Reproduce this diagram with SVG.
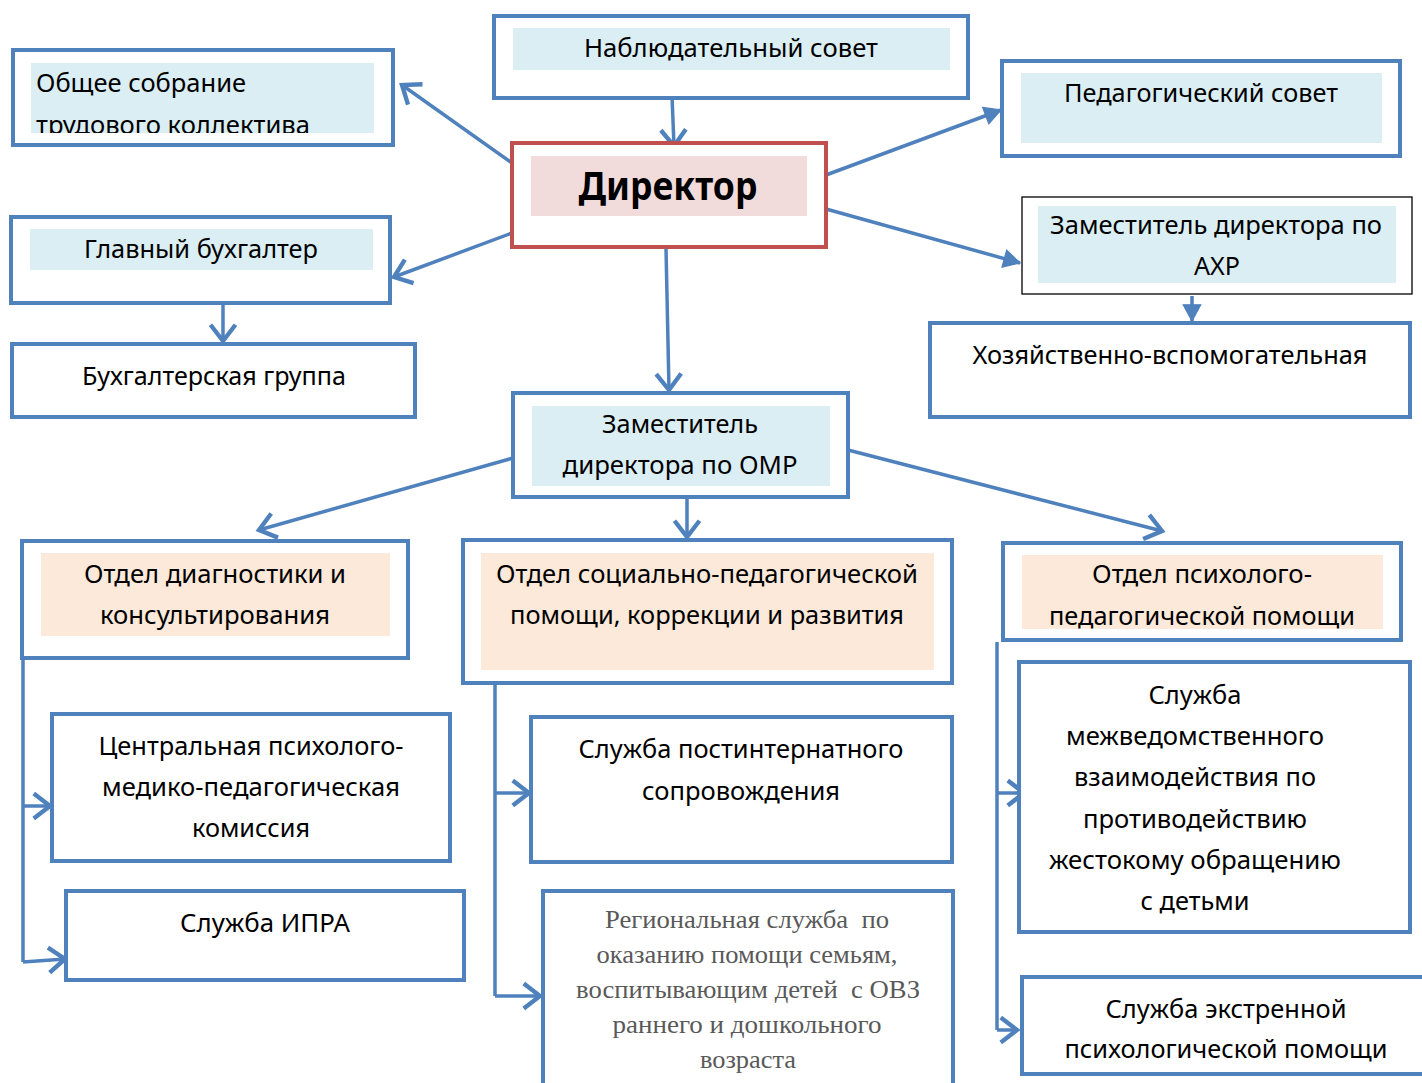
<svg xmlns="http://www.w3.org/2000/svg" width="1422" height="1083" viewBox="0 0 1422 1083">
<style>
.box{fill:#fff;stroke:#4F81BD;stroke-width:4}
.thin{fill:#fff;stroke:#000;stroke-width:1.3}
.red{fill:#fff;stroke:#C0504D;stroke-width:4}
.blue{fill:#DBEEF3}
.peach{fill:#FDE9D9}
.pink{fill:#F2DCDB}
text{font-family:"Noto Sans","Open Sans","DejaVu Sans",sans-serif;font-size:25px;fill:#000}
.c{text-anchor:middle}
.bold{font-weight:bold;font-size:40px}
.serif{font-family:"Liberation Serif","Times New Roman",serif;font-size:25px;fill:#595959}
.ln{fill:none;stroke:#4F81BD;stroke-width:3.5}
</style>
<defs>
<marker id="v" markerUnits="userSpaceOnUse" markerWidth="30" markerHeight="30" viewBox="-16 -12 20 24" refX="0" refY="0" orient="auto">
<path d="M-13,-10 L0,0 L-13,10" fill="none" stroke="#4F81BD" stroke-width="3.5"/>
</marker>
<marker id="t" markerUnits="userSpaceOnUse" markerWidth="30" markerHeight="30" viewBox="-16 -12 20 24" refX="0" refY="0" orient="auto">
<path d="M-13,-7 L0,0 L-13,7 Z" fill="#4F81BD" stroke="#4F81BD" stroke-width="1"/>
</marker>
<clipPath id="clip1"><rect x="31" y="63" width="343" height="70"/></clipPath>
</defs>

<g id="connectors">
<line class="ln" x1="672" y1="96" x2="674" y2="146" marker-end="url(#v)"/>
<line class="ln" x1="512" y1="163" x2="402" y2="85" marker-end="url(#v)"/>
<line class="ln" x1="512" y1="233" x2="394" y2="277" marker-end="url(#v)"/>
<line class="ln" x1="826" y1="175" x2="1001" y2="110" marker-end="url(#t)"/>
<line class="ln" x1="826" y1="209" x2="1020" y2="263" marker-end="url(#t)"/>
<line class="ln" x1="1192" y1="296" x2="1192" y2="321" marker-end="url(#t)"/>
<line class="ln" x1="223" y1="304" x2="223" y2="341" marker-end="url(#v)"/>
<line class="ln" x1="666" y1="248" x2="669" y2="390" marker-end="url(#v)"/>
<line class="ln" x1="513" y1="458" x2="259" y2="530" marker-end="url(#v)"/>
<line class="ln" x1="687" y1="498" x2="687" y2="537" marker-end="url(#v)"/>
<line class="ln" x1="848" y1="450" x2="1162" y2="531" marker-end="url(#v)"/>
<polyline class="ln" points="23,658 23,962"/>
<line class="ln" x1="23" y1="806" x2="50" y2="806" marker-end="url(#v)"/>
<line class="ln" x1="23" y1="962" x2="65" y2="959" marker-end="url(#v)"/>
<polyline class="ln" points="495,683 495,996"/>
<line class="ln" x1="495" y1="793" x2="529" y2="793" marker-end="url(#v)"/>
<line class="ln" x1="495" y1="996" x2="540" y2="996" marker-end="url(#v)"/>
<polyline class="ln" points="997,642 997,1030"/>
<line class="ln" x1="997" y1="793" x2="1024" y2="793" marker-end="url(#v)"/>
<line class="ln" x1="997" y1="1030" x2="1017" y2="1030" marker-end="url(#v)"/>
</g>

<g id="obshchee">
<rect class="box" x="13" y="50" width="380" height="95"/>
<rect class="blue" x="31" y="63" width="343" height="70"/>
<text x="36" y="92" textLength="210" lengthAdjust="spacingAndGlyphs">Общее собрание</text>
<text x="36" y="134" textLength="274" lengthAdjust="spacingAndGlyphs" clip-path="url(#clip1)">трудового коллектива</text>
</g>

<g id="nablyud">
<rect class="box" x="494" y="16" width="474" height="82"/>
<rect class="blue" x="513" y="28" width="437" height="42"/>
<text class="c" x="731" y="57" textLength="294" lengthAdjust="spacingAndGlyphs">Наблюдательный совет</text>
</g>

<g id="director">
<rect class="red" x="512" y="143" width="314" height="104"/>
<rect class="pink" x="531" y="156" width="276" height="60"/>
<text class="c bold" x="668" y="200" textLength="179" lengthAdjust="spacingAndGlyphs">Директор</text>
</g>

<g id="pedsovet">
<rect class="box" x="1002" y="61" width="398" height="95"/>
<rect class="blue" x="1021" y="73" width="361" height="70"/>
<text class="c" x="1201" y="102" textLength="274" lengthAdjust="spacingAndGlyphs">Педагогический совет</text>
</g>

<g id="zam-ahr">
<rect class="thin" x="1022" y="197" width="390" height="97"/>
<rect class="blue" x="1038" y="206" width="358" height="77"/>
<text class="c" x="1216" y="234" textLength="332" lengthAdjust="spacingAndGlyphs">Заместитель директора по</text>
<text class="c" x="1217" y="275" textLength="46" lengthAdjust="spacingAndGlyphs">АХР</text>
</g>

<g id="hoz">
<rect class="box" x="930" y="323" width="480" height="94"/>
<text class="c" x="1170" y="364" textLength="395" lengthAdjust="spacingAndGlyphs">Хозяйственно-вспомогательная</text>
</g>

<g id="glavbuh">
<rect class="box" x="11" y="217" width="379" height="86"/>
<rect class="blue" x="30" y="229" width="343" height="41"/>
<text class="c" x="201" y="258" textLength="234" lengthAdjust="spacingAndGlyphs">Главный бухгалтер</text>
</g>

<g id="buhgruppa">
<rect class="box" x="12" y="344" width="403" height="73"/>
<text class="c" x="214" y="385" textLength="264" lengthAdjust="spacingAndGlyphs">Бухгалтерская группа</text>
</g>

<g id="zam-omr">
<rect class="box" x="513" y="393" width="335" height="104"/>
<rect class="blue" x="532" y="406" width="298" height="80"/>
<text class="c" x="680" y="433" textLength="156" lengthAdjust="spacingAndGlyphs">Заместитель</text>
<text class="c" x="680" y="474" textLength="235" lengthAdjust="spacingAndGlyphs">директора по ОМР</text>
</g>

<g id="otdel-diag">
<rect class="box" x="22" y="541" width="386" height="117"/>
<rect class="peach" x="41" y="553" width="349" height="83"/>
<text class="c" x="215" y="583" textLength="262" lengthAdjust="spacingAndGlyphs">Отдел диагностики и</text>
<text class="c" x="215" y="624" textLength="230" lengthAdjust="spacingAndGlyphs">консультирования</text>
</g>

<g id="otdel-soc">
<rect class="box" x="463" y="540" width="489" height="143"/>
<rect class="peach" x="481" y="553" width="453" height="117"/>
<text class="c" x="707" y="583" textLength="422" lengthAdjust="spacingAndGlyphs">Отдел социально-педагогической</text>
<text class="c" x="707" y="624" textLength="394" lengthAdjust="spacingAndGlyphs">помощи, коррекции и развития</text>
</g>

<g id="otdel-psih">
<rect class="box" x="1003" y="543" width="398" height="97"/>
<rect class="peach" x="1022" y="555" width="361" height="74"/>
<text class="c" x="1202" y="583" textLength="220" lengthAdjust="spacingAndGlyphs">Отдел психолого-</text>
<text class="c" x="1202" y="625" textLength="306" lengthAdjust="spacingAndGlyphs">педагогической помощи</text>
</g>

<g id="cpmpk">
<rect class="box" x="52" y="714" width="398" height="147"/>
<text class="c" x="251" y="755" textLength="305" lengthAdjust="spacingAndGlyphs">Центральная психолого-</text>
<text class="c" x="251" y="796" textLength="298" lengthAdjust="spacingAndGlyphs">медико-педагогическая</text>
<text class="c" x="251" y="837" textLength="118" lengthAdjust="spacingAndGlyphs">комиссия</text>
</g>

<g id="ipra">
<rect class="box" x="66" y="891" width="398" height="89"/>
<text class="c" x="265" y="932" textLength="170" lengthAdjust="spacingAndGlyphs">Служба ИПРА</text>
</g>

<g id="postinternat">
<rect class="box" x="531" y="717" width="421" height="145"/>
<text class="c" x="741" y="758" textLength="325" lengthAdjust="spacingAndGlyphs">Служба постинтернатного</text>
<text class="c" x="741" y="800" textLength="198" lengthAdjust="spacingAndGlyphs">сопровождения</text>
</g>

<g id="regional">
<rect class="box" x="543" y="891" width="410" height="200"/>
<text class="c serif" x="747" y="928" textLength="284" lengthAdjust="spacingAndGlyphs" xml:space="preserve">Региональная служба  по</text>
<text class="c serif" x="747" y="963" textLength="301" lengthAdjust="spacingAndGlyphs">оказанию помощи семьям,</text>
<text class="c serif" x="748" y="998" textLength="344" lengthAdjust="spacingAndGlyphs" xml:space="preserve">воспитывающим детей  с ОВЗ</text>
<text class="c serif" x="747" y="1033" textLength="269" lengthAdjust="spacingAndGlyphs">раннего и дошкольного</text>
<text class="c serif" x="748" y="1068" textLength="96" lengthAdjust="spacingAndGlyphs">возраста</text>
</g>

<g id="mezhved">
<rect class="box" x="1019" y="662" width="391" height="270"/>
<text class="c" x="1195" y="704" textLength="93" lengthAdjust="spacingAndGlyphs">Служба</text>
<text class="c" x="1195" y="745" textLength="258" lengthAdjust="spacingAndGlyphs">межведомственного</text>
<text class="c" x="1195" y="786" textLength="242" lengthAdjust="spacingAndGlyphs">взаимодействия по</text>
<text class="c" x="1195" y="828" textLength="224" lengthAdjust="spacingAndGlyphs">противодействию</text>
<text class="c" x="1195" y="869" textLength="292" lengthAdjust="spacingAndGlyphs">жестокому обращению</text>
<text class="c" x="1195" y="910" textLength="109" lengthAdjust="spacingAndGlyphs">с детьми</text>
</g>

<g id="ekstren">
<rect class="box" x="1022" y="977" width="420" height="97"/>
<text class="c" x="1226" y="1018" textLength="241" lengthAdjust="spacingAndGlyphs">Служба экстренной</text>
<text class="c" x="1226" y="1058" textLength="323" lengthAdjust="spacingAndGlyphs">психологической помощи</text>
</g>
</svg>
